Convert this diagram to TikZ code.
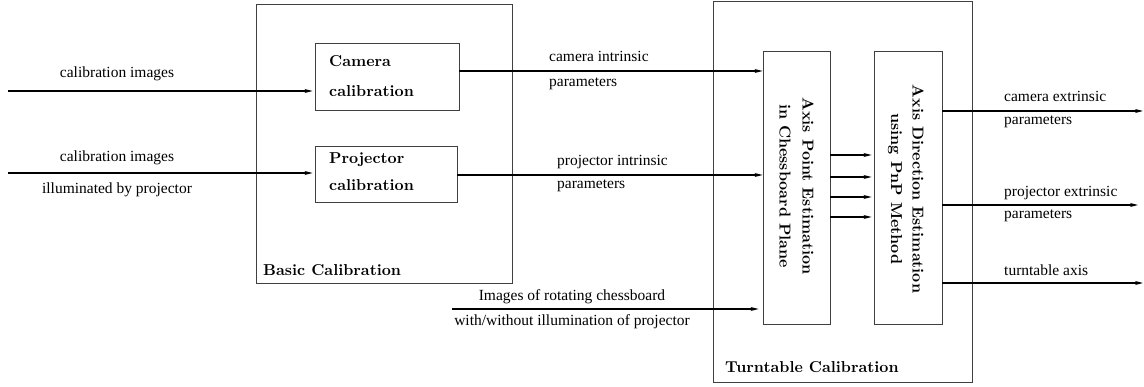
\documentclass[tikz,border=0pt]{standalone}
\usepackage{fontspec}
\setmainfont{Liberation Serif}
\newfontfamily\lmbold{lmroman10-bold.otf}
\usetikzlibrary{arrows.meta,calc}
\tikzset{
  frame/.style={draw=black!75, line width=0.9pt, inner sep=0pt},
  arr/.style={line width=1.3pt, -{Stealth[length=8pt,width=4pt]}},
  lbl/.style={font=\fontsize{15.5}{18}\selectfont, inner sep=0pt},
  btxt/.style={font=\lmbold\fontsize{15.8}{18}\selectfont, inner sep=0pt},
}
\begin{document}
\begin{tikzpicture}[x=1pt,y=-1pt]
\useasboundingbox (0,0) rectangle (1144,387);
% outer boxes
\node[frame, minimum width=256pt, minimum height=279pt] (basic) at (384,143.5) {};
\node[frame, minimum width=259pt, minimum height=381pt] (turn) at (842.5,191.5) {};
% inner boxes
\node[frame, minimum width=144pt, minimum height=67pt] (cam) at (387,76.5) {};
\node[frame, minimum width=142pt, minimum height=56pt] (proj) at (386,174) {};
\node[frame, minimum width=67pt, minimum height=273pt] (ap) at (796.5,187.5) {};
\node[frame, minimum width=68pt, minimum height=273pt] (ad) at (908,187.5) {};
% box texts
\node[btxt, anchor=west] (camt1) at (329,61) {Camera};
\node[btxt, anchor=west] (camt2) at (329,91) {calibration};
\node[btxt, anchor=west] (projt1) at (329,160) {Projector};
\node[btxt, anchor=west] (projt2) at (329,185) {calibration};
\node[btxt, anchor=west] (basict) at (263,270) {Basic Calibration};
\node[btxt, anchor=west] (turnt) at (725,367) {Turntable Calibration};
\node[btxt, rotate=-90] (apt1) at (808,186) {Axis Point Estimation};
\node[btxt, rotate=-90] (apt2) at (785,186) {in Chessboard Plane};
\node[btxt, rotate=-90] (adt1) at (918,189) {Axis Direction Estimation};
\node[btxt, rotate=-90] (adt2) at (895,189) {using PnP Method};
% free ends
\coordinate (in1) at (8,91);
\coordinate (in2) at (8,173);
\coordinate (in3) at (452,309);
\coordinate (o1) at (1143,111);
\coordinate (o2) at (1138,205);
\coordinate (o3) at (1143,283);
% input arrows
\draw[arr, shorten >=2pt] (in1) -- (in1 -| cam.west);
\draw[arr, shorten >=2pt] (in2) -- (in2 -| proj.west);
\draw[arr] (cam.east |- 0,71) -- (ap.west |- 0,71);
\draw[arr] (proj.east |- 0,175) -- (ap.west |- 0,175);
\draw[arr, shorten >=4pt] (in3) -- (in3 -| ap.west);
% between boxes
\foreach \y in {155,177,197,217}
  \draw[arr, shorten >=2pt] (ap.east |- 0,\y) -- (ad.west |- 0,\y);
% outputs
\draw[arr] (ad.east |- o1) -- (o1);
\draw[arr] (ad.east |- o2) -- (o2);
\draw[arr] (ad.east |- o3) -- (o3);
% labels
\node[lbl] (l1) at (117,74) {calibration images};
\node[lbl] (l2) at (117,158) {calibration images};
\node[lbl] (l3) at (117,190) {illuminated by projector};
\node[lbl, anchor=west] (l4) at (549,56) {camera intrinsic};
\node[lbl, anchor=west] (l5) at (549,84) {parameters};
\node[lbl, anchor=west] (l6) at (557,162) {projector intrinsic};
\node[lbl, anchor=west] (l7) at (557,186) {parameters};
\node[lbl] (l8) at (572,297) {Images of rotating chessboard};
\node[lbl] (l9) at (572,322) {with/without illumination of projector};
\node[lbl, anchor=west] (l10) at (1004,96) {camera extrinsic};
\node[lbl, anchor=west] (l11) at (1004,122) {parameters};
\node[lbl, anchor=west] (l12) at (1004,193) {projector extrinsic};
\node[lbl, anchor=west] (l13) at (1004,216) {parameters};
\node[lbl, anchor=west] (l14) at (1004,270) {turntable axis};
\end{tikzpicture}
\end{document}
